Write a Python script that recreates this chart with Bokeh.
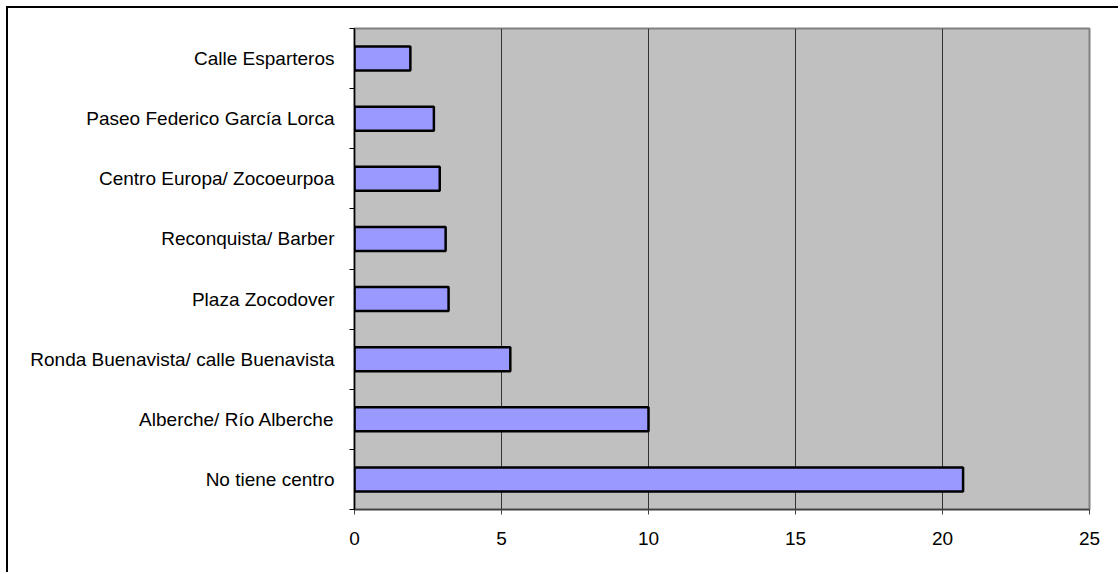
from bokeh.plotting import figure
from bokeh.models import Range1d, FixedTicker, ColumnDataSource
from bokeh.embed import file_html
from bokeh.resources import INLINE

# Data (bottom to top)
categories = [
    "No tiene centro",
    "Alberche/ Río Alberche",
    "Ronda Buenavista/ calle Buenavista",
    "Plaza Zocodover",
    "Reconquista/ Barber",
    "Centro Europa/ Zocoeurpoa",
    "Paseo Federico García Lorca",
    "Calle Esparteros",
]
values = [20.7, 10.0, 5.3, 3.2, 3.1, 2.9, 2.7, 1.9]
x_ticks = [0, 5, 10, 15, 20, 25]

n = len(categories)
pos = [i + 0.5 for i in range(n)]
src = ColumnDataSource(dict(y=pos, v=values, cat=categories))

p = figure(
    frame_width=735, frame_height=481,
    min_border_left=346, min_border_right=31,
    min_border_top=20, min_border_bottom=65,
    x_range=Range1d(0, 25), y_range=Range1d(0, n),
    output_backend="svg", toolbar_location=None,
)
p.margin = (8, 0, 0, 8)
p.styles = {"box-shadow": "-2px -2px 0 0 #000000"}

p.background_fill_color = "#C0C0C0"
p.border_fill_color = "white"
p.outline_line_color = "#808080"
p.outline_line_width = 2

p.hbar(y="y", left=0, right="v", height=0.4, source=src,
       fill_color="#9999FF", line_color="black", line_width=2.5)

font = "Liberation Sans"

# x axis
xa = p.xaxis[0]
xa.ticker = FixedTicker(ticks=x_ticks)
xa.axis_line_color = "#404040"
xa.axis_line_width = 1.5
xa.major_tick_line_color = "#404040"
xa.major_tick_out = 5
xa.major_tick_in = 0
xa.minor_tick_line_color = None
xa.major_label_text_font = font
xa.major_label_text_font_size = "19px"
xa.major_label_text_color = "black"
xa.major_label_standoff = 17

# y axis
ya = p.yaxis[0]
ya.ticker = FixedTicker(ticks=pos, minor_ticks=list(range(n + 1)))
ya.major_label_overrides = {pos[i]: categories[i] for i in range(n)}
ya.axis_line_color = "black"
ya.axis_line_width = 1.5
ya.major_tick_line_color = None
ya.major_tick_out = 0
ya.major_tick_in = 0
ya.minor_tick_line_color = "black"
ya.minor_tick_out = 5
ya.minor_tick_in = 0
ya.major_label_text_font = font
ya.major_label_text_font_size = "19px"
ya.major_label_text_color = "black"
ya.major_label_standoff = 15

# grid
p.xgrid.ticker = FixedTicker(ticks=[5, 10, 15, 20])
p.xgrid.grid_line_color = "#333333"
p.xgrid.grid_line_width = 1
p.ygrid.grid_line_color = None

open("out.html", "w").write(file_html(p, INLINE))
